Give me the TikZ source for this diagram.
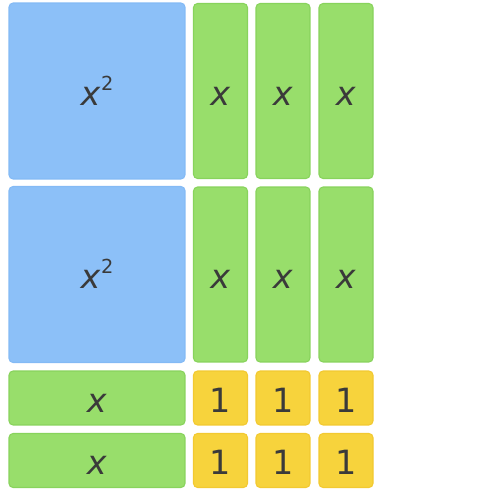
\documentclass[tikz,border=0pt]{standalone}
\usepackage{fontspec}
\setmainfont{DejaVu Sans}
\definecolor{sqblue}{HTML}{8CC0F8}
\definecolor{sqblueline}{HTML}{84BAF5}
\definecolor{bargreen}{HTML}{98DE6B}
\definecolor{bargreenline}{HTML}{88D35C}
\definecolor{unityellow}{HTML}{F7D33C}
\definecolor{unityellowline}{HTML}{F2C931}
\definecolor{tiletext}{HTML}{3A3A3A}
\tikzset{
  tile/.style={rounded corners=2.3pt,line width=0.6pt,inner sep=0pt,text=tiletext,
    font=\fontsize{19}{23}\selectfont,text height=16.4pt,text depth=0pt},
  bigsq/.style={tile,fill=sqblue,draw=sqblueline,minimum width=3.52cm,minimum height=3.52cm},
  vbar/.style={tile,fill=bargreen,draw=bargreenline,minimum width=1.08cm,minimum height=3.5cm},
  hbar/.style={tile,fill=bargreen,draw=bargreenline,minimum width=3.52cm,minimum height=1.08cm},
  unit/.style={tile,fill=unityellow,draw=unityellowline,minimum width=1.08cm,minimum height=1.08cm}
}
\newcommand{\xsq}{\textit{x}\hspace{0.3pt}\raisebox{8.5pt}{\fontsize{11}{11}\selectfont 2}}
\begin{document}
\begin{tikzpicture}[x=0.02cm,y=-0.02cm]
  \useasboundingbox (0,0) rectangle (500,500);
  % x^2 tiles
  \node[bigsq] (sqA) at (97,91) {\xsq};
  \node[bigsq] (sqB) at (97,274.5) {\xsq};
  % x tiles
  \foreach \cx/\nm in {220.5/a,283/b,346/c}{
    \node[vbar] (top\nm) at (\cx,91) {\textit{x}};
    \node[vbar] (mid\nm) at (\cx,274.5) {\textit{x}};
  }
  \node[hbar] (rowA) at (97,398) {\textit{x}};
  \node[hbar] (rowB) at (97,460.5) {\textit{x}};
  % unit tiles
  \foreach \cx/\nm in {220.5/a,283/b,346/c}{
    \node[unit] (oneA\nm) at (\cx,398) {1};
    \node[unit] (oneB\nm) at (\cx,460.5) {1};
  }
\end{tikzpicture}
\end{document}
